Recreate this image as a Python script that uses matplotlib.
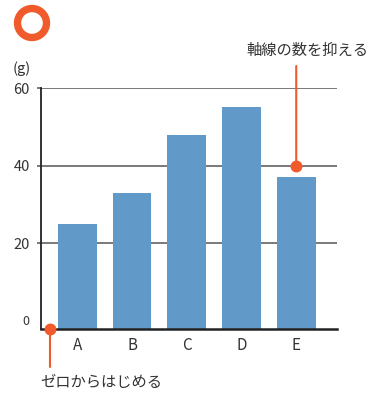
import matplotlib
matplotlib.use("Agg")
import matplotlib.pyplot as plt
from matplotlib.patches import Ellipse

plt.rcParams['font.family'] = ['Noto Sans CJK JP', 'DejaVu Sans']

# Data
categories = ["A", "B", "C", "D", "E"]
values = [25, 33, 48, 55, 37]
y_ticks = [20, 40, 60]
unit_label = "(g)"
note_top = "軸線の数を抑える"
note_bottom = "ゼロからはじめる"

BLUE = "#6199C9"
ORANGE = "#F15A2B"
TEXT = "#333333"
GRID = "#555555"
AXIS = "#222222"

W, H = 371, 393
fig = plt.figure(figsize=(W / 100, H / 100), dpi=100)
ax = fig.add_axes([41 / W, (H - 329) / H, 296 / W, 241 / H])

floor = -2  # axis line sits a little below the zero label
x = list(range(len(categories)))
ax.bar(x, [v - floor for v in values], bottom=floor, width=0.71,
       color=BLUE, zorder=2)

ax.set_xlim(-0.664, 4.745)
ax.set_ylim(floor, 60)

# y axis: gridlines with short outward ticks
ax.set_yticks(y_ticks)
ax.yaxis.grid(True, color=GRID, lw=1.1, zorder=0)
ax.set_axisbelow(True)
ax.tick_params(axis='y', length=3, width=1.1, color=GRID, labelsize=10.5,
               labelcolor=TEXT, pad=5)
ax.annotate("0", xy=(0, 0), xycoords=('axes fraction', 'data'),
            xytext=(-12, 0), textcoords='offset pixels',
            ha='right', va='center', fontsize=9, color=TEXT)
fig.text(31 / W, (H - 69) / H, unit_label, ha='right', va='center',
         fontsize=10.5, color=TEXT)

# x axis
ax.set_xticks(x)
ax.set_xticklabels(categories)
ax.tick_params(axis='x', length=0, labelsize=11, labelcolor=TEXT, pad=6)

for side in ("top", "right"):
    ax.spines[side].set_visible(False)
ax.spines["left"].set_color(AXIS)
ax.spines["left"].set_linewidth(1.3)
ax.spines["bottom"].set_color(AXIS)
ax.spines["bottom"].set_linewidth(1.8)

# Callouts
line_kw = dict(arrowstyle='-', color=ORANGE, lw=1.5, shrinkA=0, shrinkB=0)
ax.annotate("", xy=(4, 40), xytext=(4, H - 66),
            textcoords=('data', 'figure pixels'), arrowprops=line_kw,
            annotation_clip=False)
ax.plot(4, 40, 'o', color=ORANGE, ms=8.6, mew=0, clip_on=False, zorder=5)
fig.text(307.5 / W, (H - 50) / H, note_top, ha='center', va='center',
         fontsize=11, color=TEXT)

ax.annotate("", xy=(-0.5, floor), xytext=(-0.5, H - 367),
            textcoords=('data', 'figure pixels'), arrowprops=line_kw,
            annotation_clip=False)
ax.plot(-0.5, floor, 'o', color=ORANGE, ms=8.6, mew=0, clip_on=False, zorder=5)
fig.text(40 / W, (H - 382) / H, note_bottom, ha='left', va='center',
         fontsize=11, color=TEXT)

# Ring mark in the corner
fig.add_artist(Ellipse((32 / W, (H - 23) / H), 29 / W, 29 / H,
                       transform=fig.transFigure, fill=False,
                       ec=ORANGE, lw=5.3))

fig.savefig("out.png", dpi=100)
